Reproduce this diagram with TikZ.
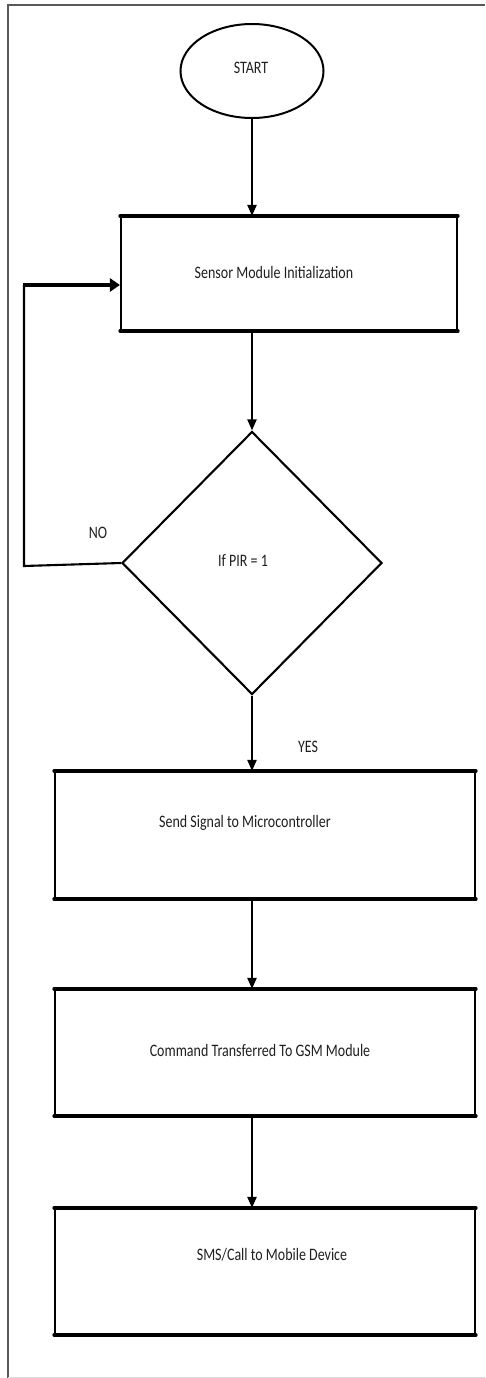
\documentclass[tikz,border=0pt]{standalone}
\usepackage{graphicx}
\usepackage{fontspec}
\setmainfont{Carlito}
\usetikzlibrary{shapes.geometric,arrows.meta}
\newcommand{\sqz}[1]{\scalebox{0.80}[1]{#1}}
\tikzset{
  lbl/.style={font=\fontsize{17.5}{20}\selectfont, text=black!88, inner sep=0pt},
  boxshape/.style={draw, line width=2.1pt, inner sep=0pt, minimum width=#1},
  edgeline/.style={line width=3.2pt, line cap=round},
  conn/.style={line width=2.1pt},
  arr/.style={conn, -{Triangle[length=11pt,width=9pt]}},
  bigarr/.style={line width=4.2pt, -{Triangle[length=10pt,width=13pt]}},
}
\begin{document}
\begin{tikzpicture}[x=1pt,y=-1pt]
\useasboundingbox (0,0) rectangle (485,1378);
% frame
\draw[black!65, line width=2pt] (485,5) -- (8,5) -- (8,1378);
\draw[black!15, line width=0.8pt] (8,1377) -- (485,1377);

% nodes
\node[draw, ellipse, line width=2pt, minimum width=143pt, minimum height=94pt, inner sep=0pt] (start) at (252,71) {};
\node[lbl] (tstart) at (251,68) {\sqz{START}};

\node[boxshape=336pt, minimum height=113pt] (b1) at (289,273.5) {};
\node[lbl] (t1) at (274,272) {\sqz{Sensor Module Initialization}};

\node[draw, diamond, line width=2.1pt, minimum width=260pt, minimum height=263pt, inner sep=0pt] (dia) at (252,563) {};
\node[lbl] (tdia) at (243,560) {\sqz{If PIR = 1}};

\node[boxshape=420pt, minimum height=126pt] (b2) at (265,835) {};
\node[lbl] (t2) at (245,823) {\sqz{Send Signal to Microcontroller}};

\node[boxshape=420pt, minimum height=125pt] (b3) at (265,1052.5) {};
\node[lbl] (t3) at (260,1050) {\sqz{Command Transferred To GSM Module}};

\node[boxshape=420pt, minimum height=125pt] (b4) at (265,1271.5) {};
\node[lbl] (t4) at (272,1255) {\sqz{SMS/Call to Mobile Device}};

\node[lbl] (no) at (98,533) {\sqz{NO}};
\node[lbl] (yes) at (308,747) {\sqz{YES}};

% thick top/bottom edges of boxes
\foreach \b in {b1,b2,b3,b4}{
  \draw[edgeline] (\b.north west) -- (\b.north east);
  \draw[edgeline] (\b.south west) -- (\b.south east);
}

% connectors
\draw[arr] (start.south) -- (start.south |- b1.north);
\draw[arr] (b1.south -| dia.north) -- (dia.north);
\draw[arr] (dia.south) -- (dia.south |- b2.north);
\draw[arr] (b2.south -| dia.south) -- (b3.north -| dia.south);
\draw[arr] (b3.south -| dia.south) -- (b4.north -| dia.south);

\coordinate (nl) at (24,566);
\coordinate (nu) at (24,285);
\draw[conn] (dia.west) -- (nl) -- (nu);
\draw[bigarr] ([xshift=-1pt]nu) -- (nu -| b1.west);
\end{tikzpicture}
\end{document}
